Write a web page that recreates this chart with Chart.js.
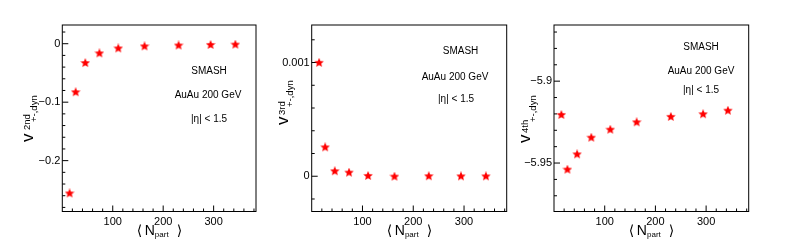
<!DOCTYPE html>
<html>
<head>
<meta charset="utf-8">
<script src="https://cdn.jsdelivr.net/npm/chart.js@4.4.1/dist/chart.umd.min.js"></script>
<style>
  body { margin: 0; background: #fff; }
  canvas { position: absolute; top: 0; }
</style>
</head>
<body>
<canvas id="c1" style="left:0px" width="262" height="249"></canvas>
<canvas id="c2" style="left:262px" width="258" height="249"></canvas>
<canvas id="c3" style="left:520px" width="268" height="249"></canvas>
<script>
// <N_part> per centrality bin
const nPart = [14.5, 26.5, 45.5, 73.5, 111, 163, 230.5, 294, 343];
// dynamical fluctuations, one array per order
const v2nd = [-0.256, -0.083, -0.033, -0.0165, -0.008, -0.0045, -0.003, -0.002, -0.0015];
const v3rd = [0.000998, 0.000254, 0.000044, 0.000032, 0.000003, -0.000003, 0.0, -0.000001, -0.000001];
const v4th = [-5.9206, -5.954, -5.9447, -5.9345, -5.9296, -5.9251, -5.9218, -5.9202, -5.918];

const xTicks = [100, 200, 300];
const yTicks2 = [-0.2, -0.1, 0];
const yTicks3 = [0, 0.001];
const yTicks4 = [-5.95, -5.9];
const notes = ['SMASH', 'AuAu 200 GeV', '|\u03b7| < 1.5'];

const FONT = '"Liberation Sans", Arial, "DejaVu Sans", sans-serif';

// filled five point star, like the ROOT marker
function starMarker(size, color) {
  const c = document.createElement('canvas');
  c.width = size; c.height = size;
  const g = c.getContext('2d');
  const r = size / 2, ri = r * 0.45;
  g.beginPath();
  for (let i = 0; i < 10; i++) {
    const rad = i % 2 ? ri : r;
    const a = -Math.PI / 2 + i * Math.PI / 5;
    g.lineTo(r + rad * Math.cos(a), r + rad * Math.sin(a));
  }
  g.closePath();
  g.fillStyle = color;
  g.fill();
  return c;
}
const star = starMarker(10, '#ff0000');

function fmt(v) {
  if (v === 0) return '0';
  const s = String(Math.abs(v));
  return (v < 0 ? '\u2212' : '') + s;
}

function rotText(ctx, text, font, bx, by) {
  ctx.save();
  ctx.translate(bx, by);
  ctx.rotate(-Math.PI / 2);
  ctx.font = font;
  ctx.textAlign = 'left';
  ctx.textBaseline = 'alphabetic';
  ctx.fillText(text, 0, 0);
  ctx.restore();
}

const rootFrame = {
  id: 'rootFrame',
  beforeDatasetsDraw(chart, args, o) {
    const { ctx, chartArea: a, scales: { x, y } } = chart;
    ctx.save();
    ctx.strokeStyle = '#000';
    ctx.lineWidth = 1;
    ctx.strokeRect(a.left, a.top, a.right - a.left, a.bottom - a.top);
    ctx.beginPath();
    // x ticks, inward from the bottom edge
    for (let v = 20; v <= x.max; v += 20) {
      const px = x.getPixelForValue(v);
      const len = v % 100 === 0 ? 6 : 3;
      ctx.moveTo(px, a.bottom);
      ctx.lineTo(px, a.bottom - len);
    }
    // y ticks, inward from the left edge
    const n0 = Math.ceil(y.min / o.minor - 1e-6), n1 = Math.floor(y.max / o.minor + 1e-6);
    for (let n = n0; n <= n1; n++) {
      const v = n * o.minor;
      const py = y.getPixelForValue(v);
      const major = o.majors.some(m => Math.abs(m - v) < o.minor / 10);
      ctx.moveTo(a.left, py);
      ctx.lineTo(a.left + (major ? 6 : 3), py);
    }
    ctx.stroke();
    ctx.restore();
  },
  afterDraw(chart, args, o) {
    const { ctx, chartArea: a } = chart;
    ctx.save();
    ctx.fillStyle = '#000';
    ctx.font = '10px ' + FONT;
    ctx.textAlign = 'center';
    ctx.textBaseline = 'middle';
    o.notes.forEach((n, i) => ctx.fillText(notes[i], a.left + n[0], n[1]));

    // y title: v^{order}_{+-,dyn}
    const t = o.title;
    rotText(ctx, 'v', '17px ' + FONT, a.left + t.v[0], t.v[1]);
    rotText(ctx, o.order, '9.5px ' + FONT, a.left + t.sup[0], t.sup[1]);
    rotText(ctx, '+-,dyn', '9.5px ' + FONT, a.left + t.sub[0], t.sub[1]);

    // x title: < N_part >
    const cx = (a.left + a.right) / 2;
    ctx.textAlign = 'left';
    ctx.textBaseline = 'alphabetic';
    ctx.font = '14px "DejaVu Sans", sans-serif';
    ctx.fillText('\u27e8', cx - 22.5, 234.5);
    ctx.fillText('\u27e9', cx + 17.5, 234.5);
    ctx.font = '14px ' + FONT;
    ctx.fillText('N', cx - 14.5, 234.5);
    ctx.font = '8px ' + FONT;
    ctx.fillText('part', cx - 4.3, 237);
    ctx.restore();
  }
};

function makePanel(id, values, yMin, yMax, yTicks, minor, axisW, padRight, order, noteXY, title) {
  new Chart(document.getElementById(id), {
    type: 'scatter',
    data: {
      datasets: [{
        data: nPart.map((n, i) => ({ x: n, y: values[i] })),
        pointStyle: star,
        pointRadius: 5,
        backgroundColor: '#ff0000',
        borderColor: '#ff0000'
      }]
    },
    options: {
      responsive: false,
      animation: false,
      layout: { padding: { top: 25, right: padRight, bottom: 0, left: 0 } },
      plugins: {
        legend: { display: false },
        tooltip: { enabled: false },
        rootFrame: { majors: yTicks, minor: minor, order: order, notes: noteXY, title: title }
      },
      scales: {
        x: {
          type: 'linear', min: 0, max: 384,
          grid: { display: false, drawTicks: false }, border: { display: false },
          afterBuildTicks: s => { s.ticks = xTicks.map(v => ({ value: v })); },
          afterFit: s => { s.height = 37.5; },
          ticks: { color: '#000', font: { family: FONT, size: 11 }, padding: 4, maxRotation: 0, autoSkip: false }
        },
        y: {
          type: 'linear', min: yMin, max: yMax,
          grid: { display: false, drawTicks: false }, border: { display: false },
          afterBuildTicks: s => { s.ticks = yTicks.map(v => ({ value: v })); },
          afterFit: s => { s.width = axisW; },
          ticks: { color: '#000', font: { family: FONT, size: 11 }, padding: 2, callback: v => fmt(v), autoSkip: false }
        }
      }
    },
    plugins: [rootFrame]
  });
}

makePanel('c1', v2nd, -0.287, 0.032, yTicks2, 0.02, 62.3, 5.3, '2nd',
  [[146.7, 71], [145.7, 95], [146.7, 119]],
  { v: [-29.3, 142], sup: [-32.3, 130], sub: [-25.8, 122] });
makePanel('c2', v3rd, -0.00031, 0.00133, yTicks3, 0.0002, 49.7, 13.3, '3rd',
  [[148.8, 51], [143.3, 77], [144.3, 99.5]],
  { v: [-23.7, 125], sup: [-26.7, 115], sub: [-18.7, 107] });
makePanel('c3', v4th, -5.9796, -5.8657, yTicks4, 0.01, 34, 39.3, '4th',
  [[147, 47], [147, 71], [147, 90.5]],
  { v: [-24, 143], sup: [-26, 133], sub: [-18, 122] });
</script>
</body>
</html>
